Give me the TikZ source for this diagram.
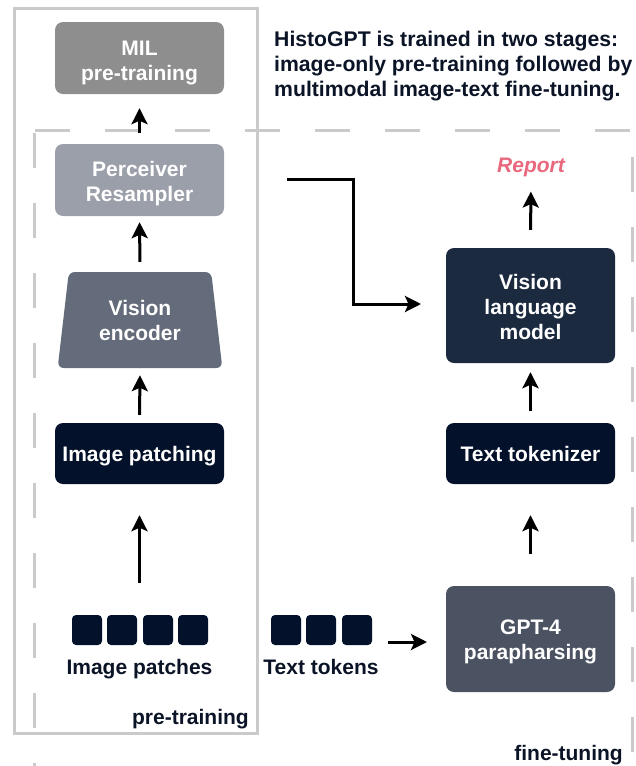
\documentclass[tikz,border=0pt]{standalone}
\usepackage{fontspec}
\setmainfont{Liberation Sans}
\usetikzlibrary{shapes.geometric,arrows.meta,calc}
\definecolor{navy}{HTML}{03112A}
\definecolor{vlmcol}{HTML}{1C2A40}
\definecolor{milcol}{HTML}{8E8E8E}
\definecolor{percol}{HTML}{9A9FAA}
\definecolor{enccol}{HTML}{646B7A}
\definecolor{gptcol}{HTML}{4B5363}
\definecolor{textnavy}{HTML}{0B1426}
\definecolor{reportcol}{HTML}{E8687D}
\definecolor{framecol}{HTML}{CACACA}
\newcommand{\dnstrut}[1]{\rule{0pt}{#1}}
\tikzset{
  box/.style={draw=none, rounded corners=8pt, text=white, font=\bfseries\fontsize{21}{25}\selectfont,
     align=center, inner sep=0pt, minimum width=169pt},
  sq/.style={fill=navy, rounded corners=4pt, minimum width=30pt, minimum height=30pt, inner sep=0pt},
  lbl/.style={text=textnavy, font=\bfseries\fontsize{21}{25}\selectfont, inner sep=0pt},
  arr/.style={line width=3pt, -{Stealth[length=16pt,width=16pt,inset=3.5pt]}},
  frame/.style={draw=framecol, line width=3pt},
  dashframe/.style={draw=framecol, line width=3pt, dash pattern=on 35pt off 35pt}
}
\begin{document}
\begin{tikzpicture}[x=1pt,y=-1pt]
\useasboundingbox (0,0) rectangle (636,766);
% frames
\draw[frame] (14,8) rectangle (257,733);
\draw[dashframe] (34,133) -- (34,766);
\draw[dashframe] (35,130) -- (632,130);
\draw[dashframe] (632,157) -- (632,766);
% left column
\node[box, fill=milcol, minimum height=72pt] (mil) at (139.5,58) {\dnstrut{25pt}MIL\\pre-training};
\node[box, fill=percol, minimum height=72pt] (per) at (139.5,180) {\dnstrut{23pt}Perceiver\\Resampler};
\node[box, fill=enccol, trapezium, trapezium stretches=true, trapezium left angle=81, trapezium right angle=81,
      minimum width=166pt, minimum height=96pt, rounded corners=6pt] (enc) at (140,320) {Vision\\encoder};
\node[box, fill=navy, minimum height=61pt, text depth=0pt] (patch) at (139.5,453.5) {Image patching};
\node[sq] (p1) at (87,630) {};
\node[sq] (p2) at (122,630) {};
\node[sq] (p3) at (158,630) {};
\node[sq] (p4) at (193,630) {};
\node[lbl, anchor=base] (plabel) at (139.5,674) {Image patches};
\node[lbl, anchor=base east] (prelabel) at (249,724) {pre-training};
% middle
\node[sq] (t1) at (286,630) {};
\node[sq] (t2) at (321,630) {};
\node[sq] (t3) at (357,630) {};
\node[lbl, anchor=base] (tlabel) at (321,674) {Text tokens};
% right column
\node[box, fill=vlmcol, minimum height=115pt] (vlm) at (530.5,305.5) {\dnstrut{18pt}Vision\\language\\model};
\node[box, fill=navy, minimum height=61pt] (tok) at (530.5,453.5) {Text tokenizer};
\node[box, fill=gptcol, minimum height=106pt] (gpt) at (530.5,639) {\dnstrut{21pt}GPT-4\\parapharsing};
\node[text=reportcol, font=\bfseries\itshape\fontsize{21}{25}\selectfont, inner sep=0pt, anchor=base] (report) at (531,172) {Report};
\node[lbl, anchor=base east] (finelabel) at (623,760) {fine-tuning};
% caption
\node[lbl, anchor=west, align=left, font=\bfseries\fontsize{21.2}{25}\selectfont] (caption) at (274,66.5) {HistoGPT is trained in two stages:\\image-only pre-training followed by\\multimodal image-text fine-tuning.};
% arrows
\draw[arr, shorten <=11pt, shorten >=14pt] (per) -- (mil);
\draw[arr, shorten <=10pt, shorten >=6pt] (enc.north) -- (per.south);
\draw[arr, shorten <=8pt, shorten >=7pt] (patch.north) -- (enc.south);
\coordinate (pstart) at (139.5,583);
\draw[arr, shorten >=31pt] (pstart) -- (patch.south);
\coordinate (tstart) at (388,642);
\coordinate (tend) at (427,642);
\draw[arr] (tstart) -- (tend);
\draw[arr, shorten <=32pt, shorten >=31pt] (gpt.north) -- (tok.south);
\draw[arr, shorten <=12pt, shorten >=9pt] (tok.north) -- (vlm.south);
\draw[arr, shorten <=18pt, shorten >=15pt] (vlm.north) -- (report.south);
\coordinate (estart) at (287,179);
\coordinate (eend) at (421,304);
\draw[arr] (estart) -- ++(66,0) |- (eend);
\end{tikzpicture}
\end{document}
